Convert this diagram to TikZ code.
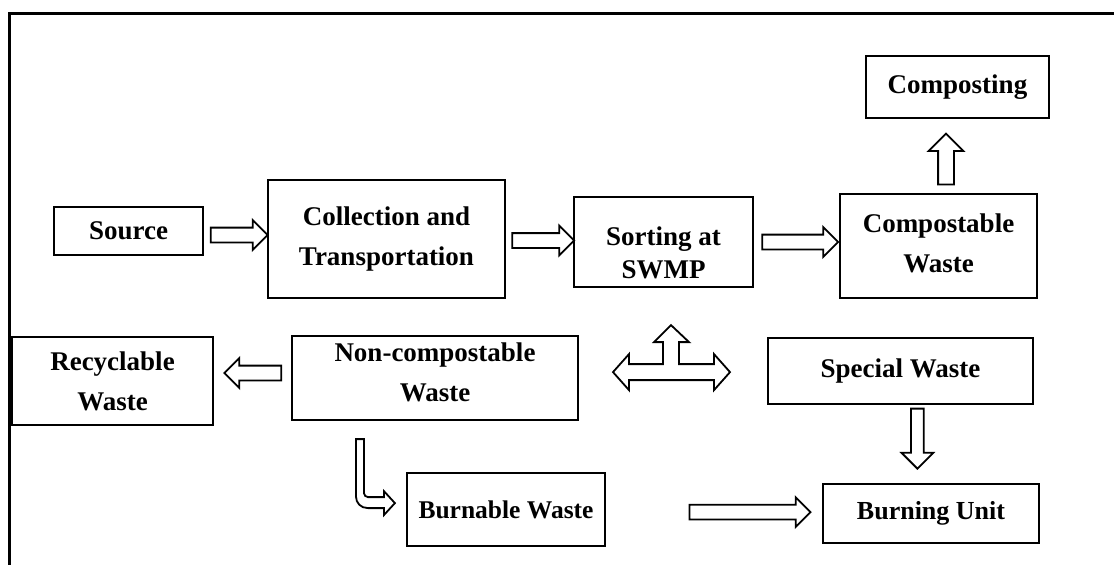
\documentclass[tikz,border=0pt]{standalone}
\usepackage{fontspec}
\setmainfont{Liberation Serif}
\usetikzlibrary{shapes.arrows,calc}
\tikzstyle{box}=[draw,line width=2.2,align=center,inner sep=2,font=\fontsize{27}{40}\selectfont\bfseries]
\tikzstyle{blockarrow}=[draw,line width=1.8,single arrow,single arrow head extend=7.5,single arrow tip angle=90,inner xsep=0,inner ysep=6.5,minimum width=0]
\tikzstyle{hollow}=[draw,line width=1.8,line join=miter]

\begin{document}
\begin{tikzpicture}[x=1pt,y=-1pt]
    \useasboundingbox (0,0) rectangle (1114,565);
    % Outer frame (open at right and bottom)
    \draw[line width=3] (9,566) -- (9,13) -- (1115,13);

    % First we draw the boxes
    \foreach \pos/\name/\w/\h/\txt in {{(128.5,231)/source/149/48/Source},
        {(386.5,239)/collect/237/118/{Collection and\\Transportation}},
        {(663.5,242)/sort/179/90/{\rule{0pt}{40pt}Sorting at\\[-7pt]SWMP}},
        {(938.5,246)/compost/197/104/{Compostable\\Waste\rule[-6pt]{0pt}{6pt}}},
        {(957.5,87)/composting/183/62/Composting},
        {(112.5,381)/recycle/201/88/{Recyclable\\Waste}},
        {(435,378)/noncomp/286/84/{Non-compostable\\Waste\rule[-12pt]{0pt}{12pt}}},
        {(900.5,371)/special/265/66/Special Waste},
        {(506,509.5)/burnable/198/73/{\fontsize{25.5}{30}\selectfont Burnable Waste}},
        {(931,513.5)/burning/216/59/{\fontsize{26}{30}\selectfont Burning Unit}}}
        \node[box,minimum width=\w,minimum height=\h] (\name) at \pos {\txt};

    % Connect boxes with block arrows
    \path (source.east) -- node[blockarrow,minimum height=57] {} (collect.west);
    \path (collect.east) -- node[blockarrow,minimum height=62] {} (sort.west);
    \path (sort.east) -- node[blockarrow,minimum height=76] {} (sort.east -| compost.west);
    \path (compost.north) -- node[blockarrow,shape border rotate=90,minimum height=51,inner sep=7,single arrow head extend=9.5,xshift=-2,yshift=-7] {} (composting.south);
    \path (noncomp.west) -- node[blockarrow,shape border rotate=180,minimum height=57,xshift=4,yshift=6.5] {} (recycle.east);
    \path (special.south) -- node[blockarrow,shape border rotate=270,pos=0.39,minimum height=60,inner sep=5.5,single arrow head extend=9.5,xshift=5] {} (burning.north);
    \path (burnable.east) -- node[blockarrow,pos=0.65,minimum height=121] {} (burning.west);

    % Three-way arrow below the sorting box
    \coordinate (hub) at ($(sort.south)+(7.5,84)$);
    \draw[hollow] (hub) ++(-58,0) -- ++(16,-18) -- ++(0,10) -- ++(34,0) -- ++(0,-22) -- ++(-9,0)
        -- ++(17,-17) -- ++(18,17) -- ++(-10,0) -- ++(0,22) -- ++(35,0) -- ++(0,-10)
        -- ++(16,18) -- ++(-16,18) -- ++(0,-10) -- ++(-85,0) -- ++(0,10) -- cycle;

    % Bent arrow down to the burnable waste
    \coordinate (bend) at ($(noncomp.south west)+(65,18)$);
    \draw[hollow] (bend) -- ++(0,57) .. controls +(0,7) and +(-7,0) .. ++(12,12) -- ++(16,0)
        -- ++(0,7) -- ++(11,-12) -- ++(-11,-12) -- ++(0,6) -- ++(-16,0)
        .. controls +(-2,0) and +(0,2) .. ++(-4,-4) -- ++(0,-54) -- cycle;
\end{tikzpicture}
\end{document}
